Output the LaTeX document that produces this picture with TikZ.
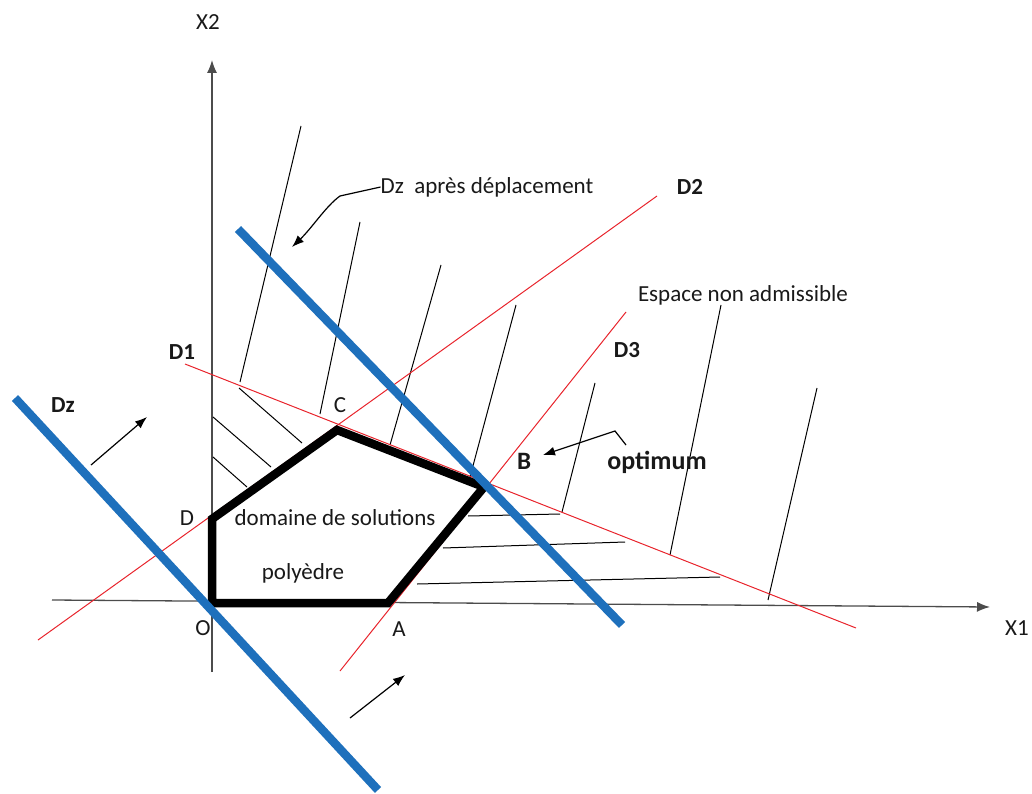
\documentclass[tikz,border=0pt]{standalone}
\usepackage{fontspec}
\setmainfont{Carlito}
\usetikzlibrary{arrows.meta}
\definecolor{dzblue}{RGB}{30,112,188}
\definecolor{dred}{RGB}{232,36,44}
\begin{document}
\begin{tikzpicture}[x=1pt,y=-1pt,
  lbl/.style={font=\fontsize{23}{27}\selectfont, inner sep=0pt, text=black!90},
  blbl/.style={font=\fontsize{23}{27}\selectfont\bfseries, inner sep=0pt, text=black!90},
  axisline/.style={line width=1.3pt, draw=black!70, -{Latex[length=13pt,width=10pt]}},
  redline/.style={draw=dred, line width=1pt},
  blueline/.style={draw=dzblue, line width=8.5pt},
  hatch/.style={draw=black, line width=1pt},
  poly/.style={draw=black, line width=8.5pt, line join=miter},
  arr/.style={draw=black, line width=1.2pt, -{Latex[length=12pt,width=9pt]}}]
\useasboundingbox (0,0) rectangle (1032,794);

% key points
\coordinate (O) at (212,603);
\coordinate (A) at (388,603);
\coordinate (B) at (484,487);
\coordinate (C) at (337,430);
\coordinate (D) at (212,519);

% axes
\coordinate (xs) at (52,600);
\coordinate (xe) at (990,607);
\coordinate (ys) at (212,672);
\coordinate (ye) at (212,60);
\draw[axisline] (xs) -- (xe);
\draw[axisline] (ys) -- (ye);

% hatch lines (upper region)
\draw[hatch] (240,382) -- (301,126);
\draw[hatch] (320,414) -- (360,222);
\draw[hatch] (390,445) -- (441,265);
\draw[hatch] (470,477) -- (516,305);
\draw[hatch] (562,512) -- (595,383);
\draw[hatch] (670,555) -- (721,305);
\draw[hatch] (768,600) -- (817,388);
% hatch lines (left triangle)
\draw[hatch] (239,388) -- (302,443);
\draw[hatch] (213,417) -- (271,467);
\draw[hatch] (213,457) -- (247,487);
% hatch lines (right triangle)
\draw[hatch] (468,516) -- (560,514);
\draw[hatch] (443,548) -- (625,542);
\draw[hatch] (417,584) -- (720,577);

% constraint lines
\coordinate (d1s) at (185,364);
\coordinate (d1e) at (856,628);
\coordinate (d2s) at (38,640);
\coordinate (d2e) at (657,196);
\coordinate (d3s) at (340,671);
\coordinate (d3e) at (626,312);
\draw[redline] (d1s) -- (d1e);
\draw[redline] (d2s) -- (d2e);
\draw[redline] (d3s) -- (d3e);

% polygon
\draw[poly] (O) -- (A) -- (B) -- (C) -- (D) -- cycle;

% objective lines
\coordinate (dzs) at (15,398);
\coordinate (dze) at (378,790);
\coordinate (dzps) at (238,229);
\coordinate (dzpe) at (622,625);
\draw[blueline] (dzs) -- (dze);
\draw[blueline] (dzps) -- (dzpe);

% labels
\node[lbl] (lx2) at (208,22) {X2};
\node[lbl] (lx1) at (1017,628) {X1};
\node[lbl] (lO) at (203,628) {O};
\node[lbl] (lA) at (399,629) {A};
\node[lbl] (lD) at (187,518) {D};
\node[lbl] (lC) at (340,405) {C};
\node[blbl, font=\fontsize{25}{29}\selectfont\bfseries] (lB) at (524,461) {B};
\node[blbl, font=\fontsize{26}{30}\selectfont\bfseries] (lopt) at (657,462) {optimum};
\node[blbl] (lD1) at (182,352) {D1};
\node[blbl] (lDz) at (63,405) {Dz};
\node[blbl] (lD2) at (690,187) {D2};
\node[blbl] (lD3) at (627,350) {D3};
\node[lbl] (lesp) at (743,295) {Espace non admissible};
\node[lbl] (ldzp) at (487,187) {Dz\ \ après déplacement};
\node[lbl] (ldom) at (335,518) {domaine de solutions};
\node[lbl] (lpoly) at (303,573) {polyèdre};

% arrows
\coordinate (a1s) at (91,465);
\coordinate (a1e) at (147,417);
\draw[arr] (a1s) -- (a1e);
\coordinate (a2s) at (350,718);
\coordinate (a2e) at (405,675);
\draw[arr] (a2s) -- (a2e);
\coordinate (a3k) at (340,196);
\coordinate (a3e) at (292,247);
\draw[arr] (ldzp.west) -- (a3k) .. controls (326,206) and (312,228) .. (a3e);
\coordinate (a4s) at (626,445);
\coordinate (a4k) at (615,431);
\coordinate (a4e) at (543,455);
\draw[arr] (a4s) -- (a4k) -- (a4e);
\end{tikzpicture}
\end{document}
